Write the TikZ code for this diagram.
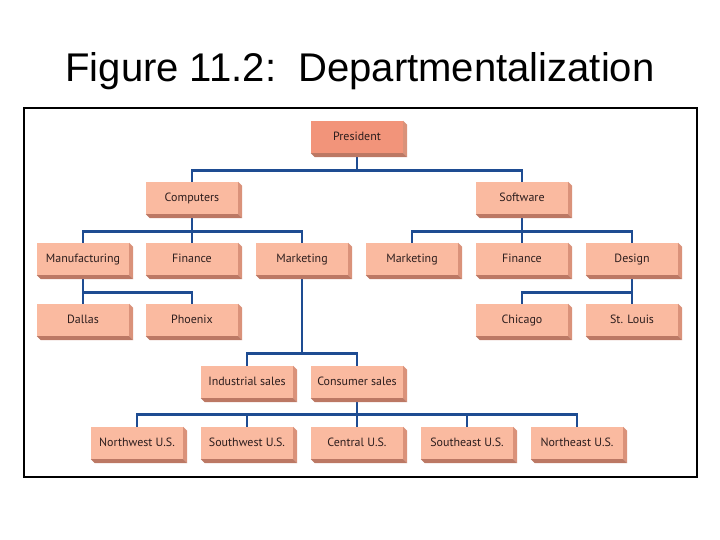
\documentclass[tikz,border=0pt]{standalone}
\usepackage{fontspec}
\setmainfont{Liberation Sans}
\newfontfamily\boxfont{PT Sans}
\usetikzlibrary{backgrounds}

\definecolor{boxface}{RGB}{250,186,160}
\definecolor{chiefface}{RGB}{242,148,122}
\definecolor{bevelside}{RGB}{218,146,122}
\definecolor{bevelbottom}{RGB}{188,120,100}
\definecolor{linkblue}{RGB}{30,76,146}
\definecolor{boxtext}{RGB}{45,30,30}

\begin{document}
\begin{tikzpicture}[
    x=1bp, y=-1bp,
    unit/.style={rectangle, fill=boxface, minimum width=92bp, minimum height=32bp,
                 inner sep=0pt, text=boxtext, text height=0.8em, text depth=0.1em,
                 font=\boxfont\fontsize{12}{14}\selectfont},
    chief/.style={unit, fill=chiefface},
    link/.style={draw=linkblue, line width=2.7bp}
]
\useasboundingbox (0,0) rectangle (720,540);
\node[anchor=base, font=\fontsize{40.2}{46}\selectfont] (title) at (360,82)
    {Figure 11.2:\ \ Departmentalization};
\draw[line width=1.2bp] (24,108) rectangle (697,477);

\node[chief] (pres) at (357,137) {President};

\node[unit] (comp) at (192,198) {Computers};
\node[unit] (soft) at (522,198) {Software};

\node[unit] (manu) at (83,259)  {Manufacturing};
\node[unit] (cfin) at (192,259) {Finance};
\node[unit] (cmkt) at (302,259) {Marketing};
\node[unit] (smkt) at (412,259) {Marketing};
\node[unit] (sfin) at (522,259) {Finance};
\node[unit] (desg) at (632,259) {Design};

\node[unit] (dall) at (83,320)  {Dallas};
\node[unit] (phoe) at (192,320) {Phoenix};
\node[unit] (chic) at (522,320) {Chicago};
\node[unit] (stlo) at (632,320) {St. Louis};

\node[unit] (inds) at (247,382) {Industrial sales};
\node[unit] (cons) at (357,382) {Consumer sales};

\node[unit] (nwus) at (137,443) {Northwest U.S.};
\node[unit] (swus) at (247,443) {Southwest U.S.};
\node[unit] (ceus) at (357,443) {Central U.S.};
\node[unit] (seus) at (467,443) {Southeast U.S.};
\node[unit] (neus) at (577,443) {Northeast U.S.};

% bevelled edges
\foreach \n in {pres, comp, soft, manu, cfin, cmkt, smkt, sfin, desg,
                dall, phoe, chic, stlo, inds, cons, nwus, swus, ceus, seus, neus} {
  \fill[bevelside] (\n.north east) -- ++(4,4) -- ([shift={(4,4)}]\n.south east)
      -- (\n.south east) -- cycle;
  \fill[bevelbottom] (\n.south west) -- (\n.south east)
      -- ([shift={(4,4)}]\n.south east) -- ([shift={(4,4)}]\n.south west) -- cycle;
}

\begin{scope}[on background layer]
\draw[link] (pres.south) -- ++(0,17) -| (comp.north);
\draw[link] (pres.south) -- ++(0,17) -| (soft.north);
\foreach \c in {manu, cfin, cmkt}
  \draw[link] (comp.south) -- ++(0,17) -| (\c.north);
\foreach \c in {smkt, sfin, desg}
  \draw[link] (soft.south) -- ++(0,17) -| (\c.north);
\foreach \c in {dall, phoe}
  \draw[link] (manu.south) -- ++(0,17) -| (\c.north);
\foreach \c in {chic, stlo}
  \draw[link] (desg.south) -- ++(0,17) -| (\c.north);
\foreach \c in {inds, cons}
  \draw[link] (cmkt.south) -- ++(0,78) -| (\c.north);
\foreach \c in {nwus, swus, ceus, seus, neus}
  \draw[link] (cons.south) -- ++(0,16) -| (\c.north);
\end{scope}
\end{tikzpicture}
\end{document}
